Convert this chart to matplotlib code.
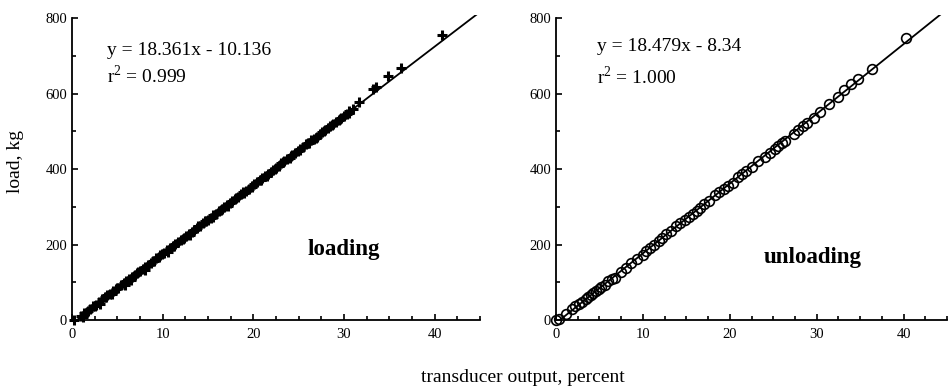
import numpy as np
import matplotlib.pyplot as plt
from matplotlib.ticker import MultipleLocator

plt.rcParams['font.family'] = ['Liberation Serif', 'DejaVu Serif']
plt.rcParams['mathtext.fontset'] = 'custom'
plt.rcParams['mathtext.rm'] = 'Liberation Serif'

# loading data (transducer output %, load kg)
load_x = [0.2, 1.0, 1.3, 1.6, 2.0, 2.3, 2.6, 3.0, 3.3, 3.6, 3.9, 4.2, 4.5, 4.8, 5.1, 5.4,
          5.7, 6.0, 6.3, 6.6, 6.9, 7.2, 7.5, 7.8, 8.1, 8.4, 8.7, 9.0, 9.3, 9.6, 9.9,
          10.2, 10.5, 10.8, 11.1, 11.4, 11.7, 12.0, 12.3, 12.6, 12.9, 13.2, 13.5,
          13.8, 14.1, 14.4, 14.7, 15.0, 15.3, 15.6, 15.9, 16.2, 16.5, 16.8, 17.1,
          17.4, 17.7, 18.0, 18.3, 18.6, 18.9, 19.2, 19.5, 19.8, 20.1, 20.4, 20.7,
          21.0, 21.3, 21.6, 21.9, 22.2, 22.5, 22.8, 23.1, 23.4, 23.7, 24.0, 24.3,
          24.6, 24.9, 25.2, 25.5, 25.8, 26.1, 26.4, 26.7, 27.0, 27.3, 27.6, 27.9,
          28.2, 28.5, 28.8, 29.1, 29.4, 29.7, 30.0, 30.3, 30.6, 31.0,
          31.7, 33.2, 33.5, 34.8, 36.3, 40.8,
          # second pass, a bit off the first
          1.2, 1.8, 2.5, 3.1, 3.8, 4.4, 5.0, 5.9, 6.5, 7.3, 8.0, 8.9, 9.7, 10.6,
          11.3, 12.2, 13.0, 13.9, 14.8, 15.5, 16.4, 17.2, 18.1, 19.0, 19.9, 20.8,
          21.5, 22.4, 23.3, 24.2, 25.1, 26.0, 26.9, 27.8, 28.7, 29.6, 30.5]
load_y = [0, 10, 18, 22, 30, 36, 40, 48, 55, 60, 66, 70, 76, 82, 86, 92,
          98, 103, 108, 114, 118, 124, 130, 136, 140, 146, 152, 157, 163, 167, 174,
          178, 185, 190, 195, 201, 207, 211, 218, 222, 228, 234, 239, 244, 250, 256,
          261, 266, 270, 278, 282, 289, 294, 300, 305, 310, 316, 320, 327, 333, 338,
          343, 348, 354, 360, 365, 371, 376, 382, 388, 393, 398, 404, 408, 415, 420,
          426, 430, 437, 442, 448, 454, 459, 465, 470, 476, 480, 486, 492, 498, 503,
          509, 514, 518, 525, 531, 536, 541, 547, 553, 560,
          578, 612, 616, 646, 667, 755,
          8, 25, 38, 42, 62, 68, 84, 94, 106, 126, 132, 156, 172, 180,
          196, 214, 226, 248, 262, 272, 292, 302, 324, 336, 352, 370,
          382, 400, 418, 434, 450, 468, 482, 500, 516, 532, 548]

# unloading data
unl_x = [0.0, 0.3, 1.2, 1.8, 2.2, 2.6, 3.0, 3.4, 3.7, 4.0, 4.3, 4.6, 4.9, 5.2, 5.6,
         6.0, 6.4, 6.8, 7.5, 8.0, 8.6, 9.3, 10.0, 10.4, 10.8, 11.3, 11.8, 12.2,
         12.7, 13.2, 13.8, 14.3, 14.8, 15.3, 15.8, 16.2, 16.6, 17.0, 17.6, 18.3,
         18.8, 19.3, 19.8, 20.4, 21.0, 21.4, 21.9, 22.6, 23.3, 24.1, 24.6, 25.2,
         25.6, 26.0, 26.3, 27.4, 27.9, 28.4, 28.9, 29.7, 30.4, 31.4, 32.4, 33.2,
         34.0, 34.8, 36.4, 40.3]
unl_y = [0, 2, 15, 28, 36, 42, 48, 55, 62, 66, 72, 76, 82, 88, 94,
         102, 108, 112, 128, 138, 150, 162, 172, 182, 190, 198, 210, 216,
         228, 236, 248, 256, 264, 272, 282, 290, 296, 308, 316, 330,
         340, 348, 356, 364, 378, 386, 396, 406, 420, 432, 442, 452,
         460, 468, 474, 494, 504, 514, 522, 536, 552, 572, 592, 610,
         624, 638, 666, 748]

fits = [(18.361, -10.136), (18.479, -8.34)]
eq_text = ['y = 18.361x - 10.136', 'y = 18.479x - 8.34']
r2_text = ['r$^{2}$ = 0.999', 'r$^{2}$ = 1.000']
names = ['loading', 'unloading']

fig = plt.figure(figsize=(9.48, 3.88), dpi=100)
ax1 = fig.add_axes([72 / 948, 1 - 320 / 388, 408 / 948, 305 / 388])
ax2 = fig.add_axes([556 / 948, 1 - 320 / 388, 391 / 948, 305 / 388])

ax1.plot(load_x, load_y, '+', color='black', markersize=6.5, mew=2.2, clip_on=False)
ax2.plot(unl_x, unl_y, 'o', mfc='none', mec='black', markersize=7, mew=1.2, clip_on=False)

name_pos = [(26, 172), (23.9, 150)]
eq_pos = [(3.9, 702), (4.7, 712)]
r2_pos = [(3.9, 628), (4.7, 625)]

for i, ax in enumerate([ax1, ax2]):
    m, b = fits[i]
    xx = np.array([-b / m, 45.5])
    ax.plot(xx, m * xx + b, color='black', lw=1.3)
    ax.set_xlim(0, 45)
    ax.set_ylim(0, 808)
    for s in ['top', 'right']:
        ax.spines[s].set_visible(False)
    ax.spines['left'].set_bounds(0, 800)
    ax.spines['left'].set_linewidth(1.3)
    ax.spines['bottom'].set_linewidth(1.3)
    ax.xaxis.set_major_locator(MultipleLocator(10))
    ax.xaxis.set_minor_locator(MultipleLocator(2.5))
    ax.yaxis.set_major_locator(MultipleLocator(200))
    ax.yaxis.set_minor_locator(MultipleLocator(100))
    ax.tick_params(which='both', direction='in', width=1.2, labelsize=10.5)
    ax.tick_params(which='major', length=4)
    ax.tick_params(which='minor', length=3)
    ax.tick_params(axis='x', pad=6)
    ax.text(*eq_pos[i], eq_text[i], fontsize=14)
    ax.text(*r2_pos[i], r2_text[i], fontsize=14)
    ax.text(*name_pos[i], names[i], fontsize=16.5, fontweight='bold')

fig.text(0.016, 0.583, 'load, kg', rotation=90, ha='center', va='center', fontsize=14)
fig.text(0.552, 0.026, 'transducer output, percent', ha='center', va='center', fontsize=14)

fig.savefig('out.png', dpi=100)
